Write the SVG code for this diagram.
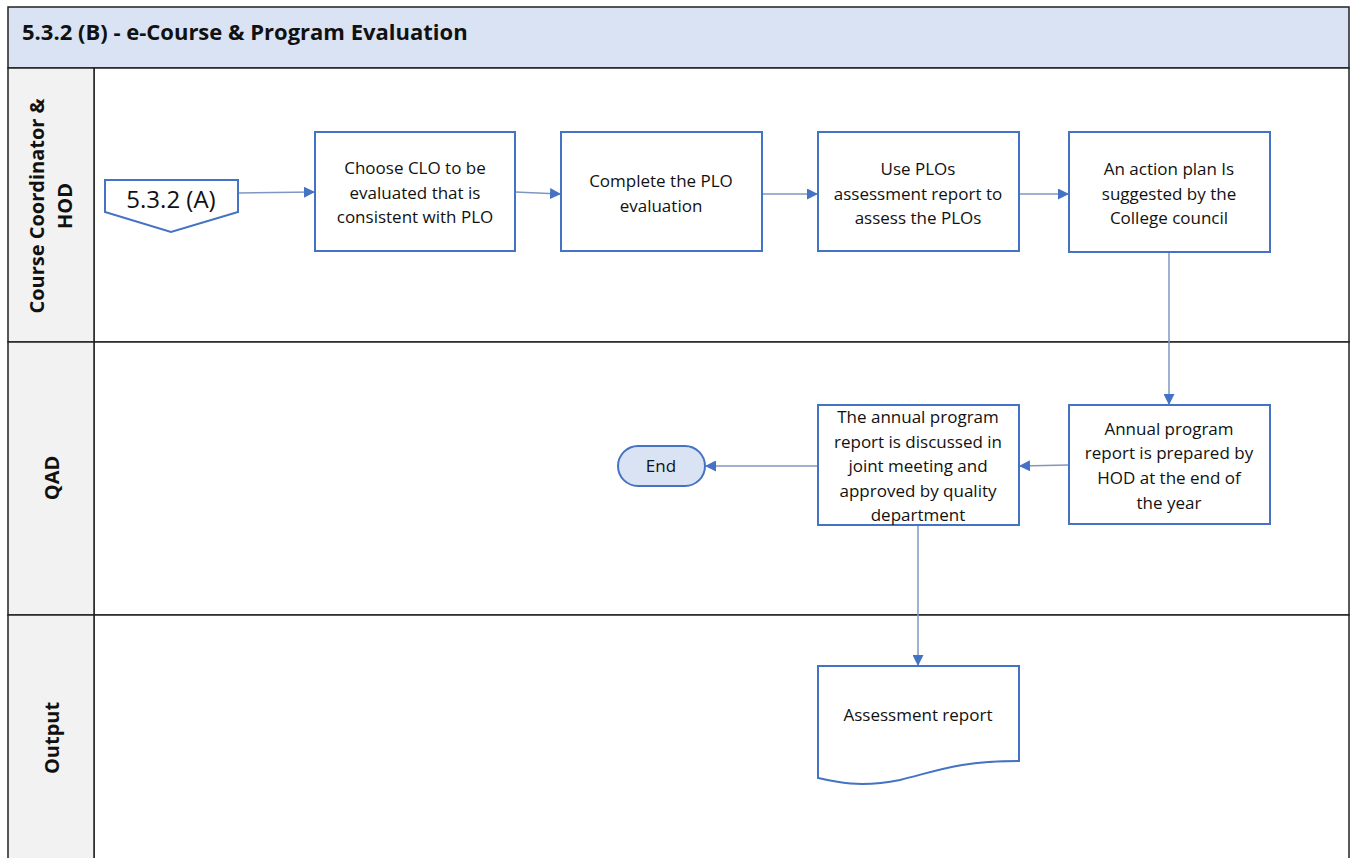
<svg xmlns="http://www.w3.org/2000/svg" width="1351" height="858" viewBox="0 0 1351 858">
  <defs>
    <marker id="arrow" markerWidth="11" markerHeight="11" refX="10" refY="5.5" orient="auto" markerUnits="userSpaceOnUse">
      <path d="M0,0 L11,5.5 L0,11 Z" fill="#4472c4"/>
    </marker>
    <style>
      .lane { fill: #ffffff; stroke: #222; stroke-width: 1.5; }
      .laneHead { fill: #f2f2f2; stroke: #222; stroke-width: 1.5; }
      .box { fill: #ffffff; stroke: #4472c4; stroke-width: 2; }
      .txt { font-family: "Open Sans", "Liberation Sans", sans-serif; font-size: 17px; fill: #111; text-anchor: middle; }
      .big { font-size: 24px; }
      .laneTxt { font-family: "Open Sans", "Liberation Sans", sans-serif; font-size: 20px; font-weight: bold; fill: #111; text-anchor: middle; }
      .conn { fill: none; stroke: #7f97c0; stroke-width: 1.5; marker-end: url(#arrow); }
    </style>
  </defs>

  <!-- title band -->
  <g id="title">
    <rect x="8" y="7" width="1341" height="61" fill="#dae3f3" stroke="#222" stroke-width="1.5"/>
    <text x="22" y="40" font-family="Open Sans, Liberation Sans, sans-serif" font-size="22" font-weight="bold" fill="#111">5.3.2 (B) - e-Course &amp; Program Evaluation</text>
  </g>

  <!-- swimlanes -->
  <g id="lanes">
    <rect class="lane" x="94" y="68" width="1255" height="274"/>
    <rect class="lane" x="94" y="342" width="1255" height="273"/>
    <rect class="lane" x="94" y="615" width="1255" height="250"/>
    <rect class="laneHead" x="8" y="68" width="86" height="274"/>
    <rect class="laneHead" x="8" y="342" width="86" height="273"/>
    <rect class="laneHead" x="8" y="615" width="86" height="250"/>
    <text class="laneTxt" transform="translate(44,206) rotate(-90)">Course Coordinator &amp;</text>
    <text class="laneTxt" transform="translate(72,206) rotate(-90)">HOD</text>
    <text class="laneTxt" transform="translate(59,478) rotate(-90)">QAD</text>
    <text class="laneTxt" transform="translate(59,738) rotate(-90)">Output</text>
  </g>

  <!-- connectors -->
  <g id="connectors">
    <path class="conn" d="M238,193 L314,192"/>
    <path class="conn" d="M515,192 L560,194"/>
    <path class="conn" d="M762,194 L817,194"/>
    <path class="conn" d="M1019,194 L1068,194"/>
    <path class="conn" d="M1169,252 L1169,404"/>
    <path class="conn" d="M1069,465 L1020,466"/>
    <path class="conn" d="M818,466 L706,466"/>
    <path class="conn" d="M918,525 L918,665"/>
  </g>

  <g id="offpage-a">
    <path class="box" d="M105,180 L238,180 L238,212 L171,232 L105,212 Z"/>
    <text class="txt big" x="171" y="208">5.3.2 (A)</text>
  </g>

  <g id="choose-clo">
    <rect class="box" x="315" y="132" width="200" height="119"/>
    <text class="txt" x="415" y="174">Choose CLO to be</text>
    <text class="txt" x="415" y="199">evaluated that is</text>
    <text class="txt" x="415" y="223">consistent with PLO</text>
  </g>

  <g id="complete-plo">
    <rect class="box" x="561" y="132" width="201" height="119"/>
    <text class="txt" x="661" y="187">Complete the PLO</text>
    <text class="txt" x="661" y="212">evaluation</text>
  </g>

  <g id="use-plos">
    <rect class="box" x="818" y="132" width="201" height="119"/>
    <text class="txt" x="918" y="175">Use PLOs</text>
    <text class="txt" x="918" y="200">assessment report to</text>
    <text class="txt" x="918" y="224">assess the PLOs</text>
  </g>

  <g id="action-plan">
    <rect class="box" x="1069" y="132" width="201" height="120"/>
    <text class="txt" x="1169" y="175">An action plan Is</text>
    <text class="txt" x="1169" y="200">suggested by the</text>
    <text class="txt" x="1169" y="224">College council</text>
  </g>

  <g id="annual-report">
    <rect class="box" x="1069" y="405" width="201" height="119"/>
    <text class="txt" x="1169" y="435">Annual program</text>
    <text class="txt" x="1169" y="459">report is prepared by</text>
    <text class="txt" x="1169" y="484">HOD at the end of</text>
    <text class="txt" x="1169" y="509">the year</text>
  </g>

  <g id="joint-meeting">
    <rect class="box" x="818" y="405" width="201" height="120"/>
    <text class="txt" x="918" y="423">The annual program</text>
    <text class="txt" x="918" y="448">report is discussed in</text>
    <text class="txt" x="918" y="472">joint meeting and</text>
    <text class="txt" x="918" y="497">approved by quality</text>
    <text class="txt" x="918" y="521">department</text>
  </g>

  <g id="end">
    <rect x="618" y="446" width="87" height="40" rx="20" fill="#dae3f3" stroke="#4472c4" stroke-width="2"/>
    <text class="txt" x="661" y="472">End</text>
  </g>

  <g id="assessment-report">
    <path class="box" d="M818,666 L1019,666 L1019,761 C960,761 940,770 900,780 C860,788 835,782 818,778 Z"/>
    <text class="txt" x="918" y="721">Assessment report</text>
  </g>
</svg>
